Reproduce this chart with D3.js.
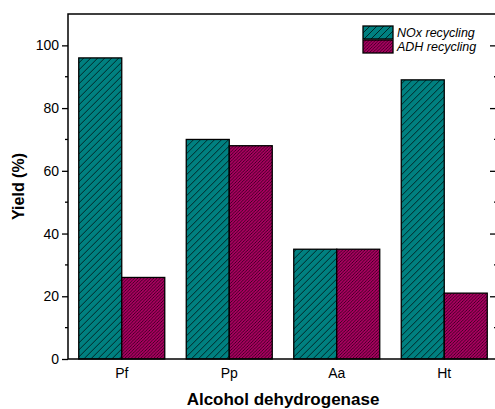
<!DOCTYPE html>
<html>
<head>
<meta charset="utf-8">
<script src="https://cdn.jsdelivr.net/npm/d3@7"></script>
<style>
  body { margin: 0; background: #fff; }
  svg { font-family: "Liberation Sans", Arial, sans-serif; }
</style>
</head>
<body>
<svg id="chart" width="495" height="409"></svg>
<script>
// data
const enzymes = ["Pf", "Pp", "Aa", "Ht"];
const noxValues = [96, 70, 35, 89];
const adhValues = [26, 68, 35, 21];
const seriesNames = ["NOx recycling", "ADH recycling"];
const yTicks = [0, 20, 40, 60, 80, 100];

const margin = { top: 14, right: -3, bottom: 50, left: 68 };
const width = 495 - margin.left - margin.right;
const height = 409 - margin.top - margin.bottom;

const svg = d3.select("#chart");
const defs = svg.append("defs");

// hatch patterns
function hatch(id, fill, spacing, sw) {
  const p = defs.append("pattern")
    .attr("id", id)
    .attr("patternUnits", "userSpaceOnUse")
    .attr("width", spacing).attr("height", spacing);
  p.append("rect").attr("width", spacing).attr("height", spacing).attr("fill", fill);
  p.append("path")
    .attr("d", `M0,${spacing} L${spacing},0 M${-spacing / 2},${spacing / 2} L${spacing / 2},${-spacing / 2} M${spacing / 2},${spacing * 1.5} L${spacing * 1.5},${spacing / 2}`)
    .attr("stroke", "#000").attr("stroke-width", sw);
}
hatch("hNox", "#008080", 7, 0.7);
hatch("hAdh", "#a8005f", 3.2, 0.6);
const fills = ["url(#hNox)", "url(#hAdh)"];

const g = svg.append("g").attr("transform", `translate(${margin.left},${margin.top})`);

const x = d3.scaleBand().domain(enzymes).range([0, width]).paddingInner(0.2).paddingOuter(0.1);
const xs = d3.scaleBand().domain([0, 1]).range([0, x.bandwidth()]);
const y = d3.scaleLinear().domain([0, 110]).range([height, 0]);

const rows = enzymes.map((e, i) => ({ e, vals: [noxValues[i], adhValues[i]] }));

const groups = g.selectAll(".grp").data(rows).join("g")
  .attr("transform", d => `translate(${x(d.e)},0)`);

groups.selectAll("rect").data(d => d.vals).join("rect")
  .attr("x", (d, i) => xs(i))
  .attr("y", d => y(d))
  .attr("width", xs.bandwidth())
  .attr("height", d => height - y(d))
  .attr("fill", (d, i) => fills[i])
  .attr("stroke", "#000")
  .attr("stroke-width", 1.3);

// frame
g.append("rect").attr("width", width).attr("height", height)
  .attr("fill", "none").attr("stroke", "#000").attr("stroke-width", 1.5);

// left axis
const minor = d3.range(10, 110, 20);
const yAxis = g.append("g").call(d3.axisLeft(y).tickValues(yTicks).tickSize(6).tickPadding(3));
yAxis.select(".domain").remove();
yAxis.selectAll("text").attr("font-size", 14).attr("fill", "#000");
yAxis.selectAll("line").attr("stroke-width", 1.3);
g.append("g").selectAll("line").data(minor).join("line")
  .attr("x1", -3).attr("x2", 0).attr("y1", d => y(d)).attr("y2", d => y(d))
  .attr("stroke", "#000").attr("stroke-width", 1.3);

// right axis, ticks inward
const yRight = g.append("g").attr("transform", `translate(${width},0)`)
  .call(d3.axisRight(y).tickValues(yTicks.slice(1)).tickSize(-8).tickFormat(""));
yRight.select(".domain").remove();
yRight.selectAll("line").attr("stroke-width", 1.3);
g.append("g").selectAll("line").data(minor).join("line")
  .attr("x1", width - 4).attr("x2", width).attr("y1", d => y(d)).attr("y2", d => y(d))
  .attr("stroke", "#000").attr("stroke-width", 1.3);

// bottom axis
const xAxis = g.append("g").attr("transform", `translate(0,${height})`)
  .call(d3.axisBottom(x).tickSize(0).tickPadding(9));
xAxis.select(".domain").remove();
xAxis.selectAll("text").attr("font-size", 14).attr("fill", "#000");

// axis titles
svg.append("text")
  .attr("x", margin.left + width / 2).attr("y", 405)
  .attr("text-anchor", "middle").attr("font-weight", "bold").attr("font-size", 17)
  .text("Alcohol dehydrogenase");
svg.append("text")
  .attr("transform", `translate(24,${margin.top + height / 2}) rotate(-90)`)
  .attr("text-anchor", "middle").attr("font-weight", "bold").attr("font-size", 16)
  .text("Yield (%)");

// legend
const legend = svg.append("g").attr("transform", "translate(363,26)");
seriesNames.forEach((name, i) => {
  const row = legend.append("g").attr("transform", `translate(0,${i * 14})`);
  row.append("rect").attr("width", 30).attr("height", 13)
    .attr("fill", fills[i]).attr("stroke", "#000").attr("stroke-width", 1.3);
  row.append("text").attr("x", 34).attr("y", 11)
    .attr("font-size", 12.5).attr("font-style", "italic").text(name);
});
</script>
</body>
</html>
